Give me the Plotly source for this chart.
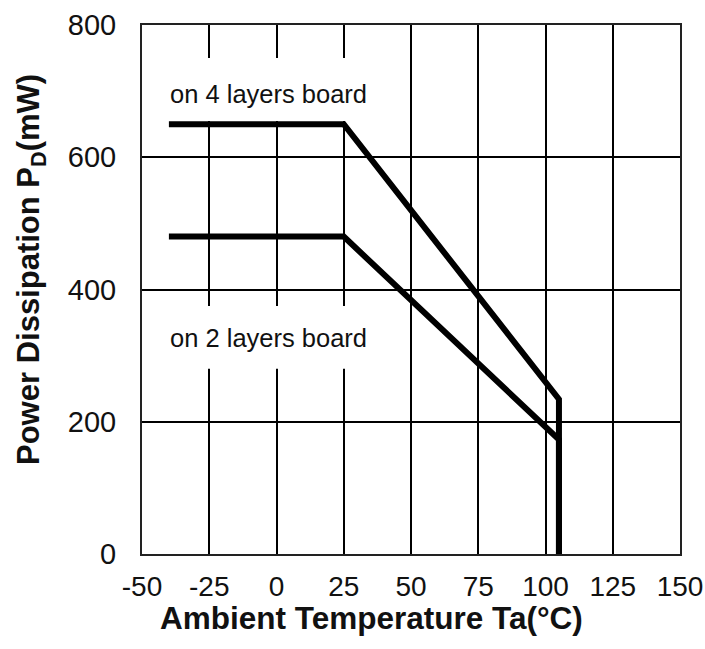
import plotly.graph_objects as go

# Data
temp_4layer = [-40, 25, 105, 105]
pd_4layer = [650, 650, 234, 0]
temp_2layer = [-40, 25, 105, 105]
pd_2layer = [480, 480, 173, 0]
x_ticks = [-50, -25, 0, 25, 50, 75, 100, 125, 150]
x_tick_text = ["-50", "-25", "0", "25", "50", "75", "100", "125", "150"]
y_ticks = [0, 200, 400, 600, 800]
y_tick_text = ["0", "200", "400", "600", "800"]
label_4layer = "on 4 layers board"
label_2layer = "on 2 layers board"

FONT = "Liberation Sans, Arial, sans-serif"

fig = go.Figure()
fig.add_trace(go.Scatter(x=temp_4layer, y=pd_4layer, mode="lines",
                         line=dict(color="black", width=6), showlegend=False))
fig.add_trace(go.Scatter(x=temp_2layer, y=pd_2layer, mode="lines",
                         line=dict(color="black", width=6), showlegend=False))

# white boxes behind labels (hide gridlines)
fig.add_shape(type="rect", x0=-45, x1=40, y0=655, y1=750, xref="x", yref="y",
              fillcolor="white", line_width=0, layer="between")
fig.add_shape(type="rect", x0=-45, x1=40, y0=280, y1=375, xref="x", yref="y",
              fillcolor="white", line_width=0, layer="between")

fig.add_annotation(x=-3, y=696, text=label_4layer, showarrow=False,
                   xanchor="center", yanchor="middle",
                   font=dict(family=FONT, size=25.5, color="#111"))
fig.add_annotation(x=-3, y=326, text=label_2layer, showarrow=False,
                   xanchor="center", yanchor="middle",
                   font=dict(family=FONT, size=25.5, color="#111"))

# axis titles
fig.add_annotation(xref="paper", yref="paper", x=0, y=0, xshift=-111, yshift=284,
                   xanchor="center", yanchor="middle",
                   text="<b>Power Dissipation P<sub>D</sub>(mW)</b>", textangle=-90,
                   showarrow=False, font=dict(family=FONT, size=31, color="#111"))
fig.add_annotation(xref="paper", yref="paper", x=0, y=0, xshift=229, yshift=-64,
                   xanchor="center", yanchor="middle",
                   text="<b>Ambient Temperature Ta(°C)</b>",
                   showarrow=False, font=dict(family=FONT, size=31.5, color="#111"))

fig.update_xaxes(range=[-50, 150], tickvals=x_ticks, ticktext=x_tick_text, showgrid=True,
                 gridcolor="black", gridwidth=1.5, showline=True, linecolor="#222",
                 linewidth=2, mirror=True, zeroline=False, ticks="", ticklabelstandoff=6,
                 automargin=False,
                 tickfont=dict(family=FONT, size=28, color="#111"))
fig.update_yaxes(range=[0, 800], tickvals=y_ticks, ticktext=y_tick_text, showgrid=True,
                 gridcolor="black", gridwidth=1.5, showline=True, linecolor="#222",
                 linewidth=2, mirror=True, zeroline=False, ticks="", ticklabelstandoff=18,
                 automargin=False,
                 tickfont=dict(family=FONT, size=29, color="#111"))

fig.update_layout(width=705, height=649, margin=dict(l=141.5, r=25, t=24.5, b=95),
                  plot_bgcolor="white", paper_bgcolor="white")

fig.write_html("out.html", config={"displayModeBar": False},
               post_script="document.body.style.margin='0px';document.body.style.overflow='hidden';")
